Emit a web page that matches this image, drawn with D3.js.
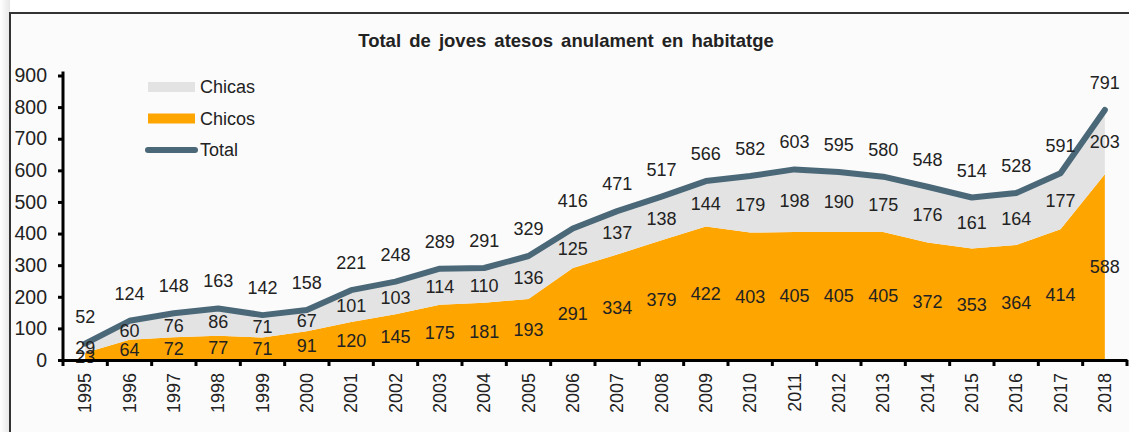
<!DOCTYPE html>
<html>
<head>
<meta charset="utf-8">
<script src="https://cdn.jsdelivr.net/npm/d3@7"></script>
<style>
  body { margin: 0; background: #ffffff; }
  #wrapper { width: 1129px; height: 432px; }
  text { font-family: "Liberation Sans", Arial, sans-serif; fill: #222; }
</style>
</head>
<body>
<div id="wrapper"></div>
<script>
const years = ["1995", "1996", "1997", "1998", "1999", "2000", "2001", "2002", "2003", "2004", "2005", "2006",
  "2007", "2008", "2009", "2010", "2011", "2012", "2013", "2014", "2015", "2016", "2017", "2018"];
const chicos = [23, 64, 72, 77, 71, 91, 120, 145, 175, 181, 193, 291, 334, 379, 422, 403, 405, 405, 405, 372, 353, 364, 414, 588];
const chicas = [29, 60, 76, 86, 71, 67, 101, 103, 114, 110, 136, 125, 137, 138, 144, 179, 198, 190, 175, 176, 161, 164, 177, 203];
const total = [52, 124, 148, 163, 142, 158, 221, 248, 289, 291, 329, 416, 471, 517, 566, 582, 603, 595, 580, 548, 514, 528, 591, 791];
const yTicks = [0, 100, 200, 300, 400, 500, 600, 700, 800, 900];
const legendLabels = ["Chicas", "Chicos", "Total"];
const titleText = "Total de joves atesos anulament en habitatge";

drawChart();

function drawChart() {
  let dimensions = {
    width: 1129,
    height: 432,
    margin: { top: 75.5, right: 2, bottom: 72, left: 63 },
  };
  dimensions.boundedWidth = dimensions.width - dimensions.margin.left - dimensions.margin.right;
  dimensions.boundedHeight = dimensions.height - dimensions.margin.top - dimensions.margin.bottom;

  const colors = { Chicos: "#ffa500", Chicas: "#e3e3e3", Total: "#4b6878" };

  const dataset = years.map((y, i) => ({
    year: y,
    Chicos: chicos[i],
    Chicas: chicas[i],
    Total: total[i],
  }));

  const wrapper = d3
    .select("#wrapper")
    .append("svg")
    .attr("width", dimensions.width)
    .attr("height", dimensions.height);

  // light gradient at the left edge + frame
  const defs = wrapper.append("defs");
  const grad = defs.append("linearGradient").attr("id", "edge").attr("x1", 0).attr("x2", 1);
  grad.append("stop").attr("offset", 0).attr("stop-color", "#ffffff");
  grad.append("stop").attr("offset", 1).attr("stop-color", "#e6e6e6");
  wrapper.append("rect").attr("x", 0).attr("y", 0).attr("width", 10).attr("height", dimensions.height).attr("fill", "url(#edge)");
  wrapper.append("rect").attr("x", 10).attr("y", 13).attr("width", dimensions.width).attr("height", dimensions.height)
    .attr("fill", "#fbfbfb").attr("stroke", "#333").attr("stroke-width", 2);

  wrapper
    .append("text")
    .attr("x", 566)
    .attr("y", 47)
    .attr("text-anchor", "middle")
    .style("font-size", "18.5px")
    .style("font-weight", "bold")
    .style("word-spacing", "3px")
    .text(titleText);

  // legend
  const legend = wrapper.append("g").attr("transform", "translate(148, 87)");
  legendLabels.forEach((name, i) => {
    const row = legend.append("g").attr("transform", `translate(0, ${i * 31.5})`);
    if (name === "Total") {
      row.append("line")
        .attr("x1", 0).attr("x2", 47).attr("y1", 0).attr("y2", 0)
        .attr("stroke", colors.Total).attr("stroke-width", 6).attr("stroke-linecap", "round");
    } else {
      row.append("rect")
        .attr("x", 0).attr("y", -5).attr("width", 47).attr("height", 10)
        .attr("fill", colors[name]);
    }
    row.append("text")
      .attr("x", 52)
      .attr("y", 0)
      .attr("dy", "0.36em")
      .style("font-size", "18px")
      .text(name);
  });

  const bounds = wrapper
    .append("g")
    .attr("transform", `translate(${dimensions.margin.left}, ${dimensions.margin.top})`);

  const xScale = d3.scaleBand().domain(years).range([0, dimensions.boundedWidth]).padding(0);
  const xCenter = (d) => xScale(d.year) + xScale.bandwidth() / 2;

  const yScale = d3.scaleLinear().domain([0, 900]).range([dimensions.boundedHeight, 0]);

  const stack = d3.stack().keys(["Chicos", "Chicas"]);
  const series = stack(dataset);

  const areaGenerator = d3
    .area()
    .x((d) => xCenter(d.data))
    .y0((d) => yScale(d[0]))
    .y1((d) => yScale(d[1]));

  bounds
    .selectAll(".area")
    .data(series)
    .join("path")
    .attr("class", "area")
    .attr("d", areaGenerator)
    .attr("fill", (s) => colors[s.key]);

  const lineGenerator = d3
    .line()
    .x(xCenter)
    .y((d) => yScale(d.Total));

  bounds
    .append("path")
    .attr("d", lineGenerator(dataset))
    .attr("fill", "none")
    .attr("stroke", colors.Total)
    .attr("stroke-width", 6)
    .attr("stroke-linejoin", "round")
    .attr("stroke-linecap", "round");

  // labels
  const labelSize = "18px";
  bounds
    .selectAll(".lbl-total")
    .data(dataset)
    .join("text")
    .attr("x", xCenter)
    .attr("y", (d) => yScale(d.Total) - 21)
    .attr("text-anchor", "middle")
    .style("font-size", labelSize)
    .text((d) => d.Total);

  series.forEach((s) => {
    bounds
      .selectAll(".lbl-" + s.key)
      .data(s)
      .join("text")
      .attr("x", (d) => xCenter(d.data))
      .attr("y", (d) => yScale((d[0] + d[1]) / 2))
      .attr("dy", "0.35em")
      .attr("text-anchor", "middle")
      .style("font-size", labelSize)
      .text((d) => d.data[s.key]);
  });

  // y axis
  const yAxisGenerator = d3.axisLeft(yScale).tickValues(yTicks).tickSize(5).tickPadding(11);
  const yAxis = bounds.append("g").call(yAxisGenerator);
  yAxis.select(".domain").attr("stroke", "#000").attr("stroke-width", 3).attr("d", `M0,-4V${dimensions.boundedHeight}`);
  yAxis.selectAll(".tick line").attr("stroke", "#000").attr("stroke-width", 3);
  yAxis.selectAll(".tick text").style("font-size", "19.5px").attr("fill", "#222").style("font-family", "Liberation Sans, Arial, sans-serif");

  // x axis
  const xAxisGenerator = d3.axisBottom(xScale).tickSize(0).tickPadding(0);
  const xAxis = bounds
    .append("g")
    .attr("transform", `translate(0, ${dimensions.boundedHeight})`)
    .call(xAxisGenerator);
  xAxis.select(".domain").attr("stroke", "#000").attr("stroke-width", 3);
  xAxis
    .selectAll(".tick text")
    .attr("transform", "rotate(-90)")
    .attr("x", -13)
    .attr("y", 0)
    .attr("dy", "0.35em")
    .attr("text-anchor", "end")
    .style("font-size", "18px")
    .style("font-family", "Liberation Sans, Arial, sans-serif")
    .attr("fill", "#222");

  // ticks at band boundaries
  const boundaries = years.map((y) => xScale(y)).concat([xScale.range()[1]]);
  xAxis
    .selectAll(".bound")
    .data(boundaries)
    .join("line")
    .attr("x1", (d) => d)
    .attr("x2", (d) => d)
    .attr("y1", 0)
    .attr("y2", 6)
    .attr("stroke", "#000")
    .attr("stroke-width", 3);
}
</script>
</body>
</html>
